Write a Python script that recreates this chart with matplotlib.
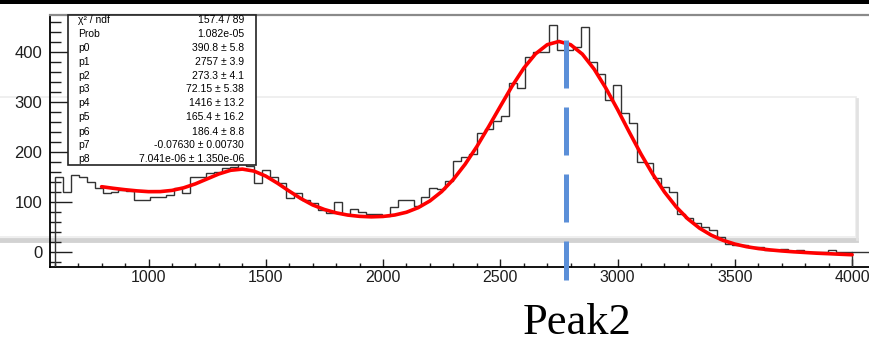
import numpy as np
import matplotlib
matplotlib.use("Agg")
import matplotlib.pyplot as plt
from matplotlib.ticker import MultipleLocator, FixedLocator
from matplotlib.patches import Rectangle
from matplotlib.lines import Line2D

# ---------------- data ----------------
bin_start = 600
bin_width = 34
counts = [150, 120, 153, 150, 140, 128, 117, 120, 123, 122,
          104, 104, 110, 110, 113, 127, 117, 150, 150, 158,
          160, 168, 170, 177, 172, 137, 163, 150, 137, 108,
          117, 103, 97, 83, 78, 100, 75, 85, 80, 76,
          75, 72, 89, 103, 103, 92, 110, 127, 125, 142,
          182, 190, 195, 237, 245, 262, 272, 337, 327, 390,
          400, 400, 453, 403, 403, 410, 450, 380, 355, 303,
          333, 277, 258, 180, 178, 148, 130, 120, 75, 68,
          57, 50, 43, 30, 15, 13, 13, 10, 10, 3,
          3, 5, 1, 3, 0, 0, 0, 3, 0, 0]

fit_x = [800, 850, 900, 950, 1000, 1050, 1100, 1150, 1200, 1250,
         1300, 1350, 1400, 1450, 1500, 1550, 1600, 1650, 1700, 1750,
         1800, 1850, 1900, 1950, 2000, 2050, 2100, 2150, 2200, 2250,
         2300, 2350, 2400, 2450, 2500, 2550, 2600, 2650, 2700, 2750,
         2800, 2850, 2900, 2950, 3000, 3050, 3100, 3150, 3200, 3250,
         3300, 3350, 3400, 3450, 3500, 3550, 3600, 3650, 3700, 3750,
         3800, 3850, 3900, 3950, 4000]
fit_y = [130.0, 126.8, 124.0, 121.7, 120.1, 120.2, 122.6, 127.8, 135.7, 145.6,
         155.5, 162.8, 165.2, 161.2, 151.2, 137.0, 121.2, 106.2, 93.5, 84.4,
         77.7, 73.2, 70.7, 69.7, 70.5, 73.4, 78.9, 88.1, 101.6, 120.2,
         144.7, 174.9, 210.3, 249.8, 290.6, 331.0, 367.0, 395.6, 414.0, 420.5,
         414.0, 395.1, 365.2, 327.2, 284.4, 239.1, 195.2, 155.0, 119.4, 89.6,
         65.5, 46.9, 32.9, 22.7, 15.3, 10.0, 6.3, 3.6, 1.5, -0.2,
         -1.6, -3.0, -4.0, -5.1, -6.1]

stat_names = ["\u03c7\u00b2 / ndf", "Prob", "p0", "p1", "p2", "p3", "p4",
              "p5", "p6", "p7", "p8"]
stat_values = ["157.4 / 89", "1.082e-05", "390.8 \u00b1 5.8", "2757 \u00b1 3.9",
               "273.3 \u00b1 4.1", "72.15 \u00b1 5.38", "1416 \u00b1 13.2",
               "165.4 \u00b1 16.2", "186.4 \u00b1 8.8", "-0.07630 \u00b1 0.00730",
               "7.041e-06 \u00b1 1.350e-06"]

peak_x = 2780
peak_label = "Peak2"
x_ticks = [1000, 1500, 2000, 2500, 3000, 3500, 4000]
y_ticks = [0, 100, 200, 300, 400]

# ---------------- layout ----------------
W, H = 870, 343
fig = plt.figure(figsize=(W / 100, H / 100), dpi=100)

def fx(px):
    return px / W

def fy(py):
    return 1 - py / H

# background overlay box (slide artefact)
fig.patches.append(Rectangle((fx(-5), fy(237)), fx(861), (237 - 97) / H,
                             transform=fig.transFigure, facecolor='none',
                             edgecolor='#ececec', lw=1.2, zorder=-5))
fig.lines.append(Line2D([fx(0), fx(856)], [fy(239.5), fy(239.5)],
                        transform=fig.transFigure, color='#d2d2d2', lw=3.5,
                        zorder=-4))
fig.lines.append(Line2D([fx(857.5), fx(857.5)], [fy(99), fy(239)],
                        transform=fig.transFigure, color='#e2e2e2', lw=2,
                        zorder=-4))
# top black bar
fig.patches.append(Rectangle((0, fy(3.5)), 1, 3.5 / H, transform=fig.transFigure,
                             facecolor='black', edgecolor='none', zorder=5))

ax = fig.add_axes([fx(50), fy(267), 830 / W, 252 / H])
ax.set_facecolor('none')
ax.set_zorder(1)
xmin, xmax = 580, 4119
ymin, ymax = -30.6, 473.4
ax.set_xlim(xmin, xmax)
ax.set_ylim(ymin, ymax)

edges = bin_start + bin_width * np.arange(len(counts) + 1)
ax.stairs(counts, edges, baseline=ymin, color='#333333', lw=1.0, zorder=3)
ax.plot([edges[-1], xmax], [0, 0], color='#333333', lw=1.0, zorder=3)

ax.plot(fit_x, fit_y, color='#ff0000', lw=2.6, zorder=4, solid_capstyle='round')

# peak marker
ax.plot([peak_x, peak_x], [423, -57], color='#5b8fd8', lw=3.6,
        ls=(0, (9.6, 3.8)), clip_on=False, zorder=6)

for s in ['left', 'bottom']:
    ax.spines[s].set_color('black')
    ax.spines[s].set_linewidth(1.3)
ax.spines['top'].set_color('#8a8a8a')
ax.spines['top'].set_linewidth(1.6)
ax.spines['right'].set_visible(False)

ax.xaxis.set_major_locator(FixedLocator(x_ticks))
ax.xaxis.set_minor_locator(MultipleLocator(100))
ax.yaxis.set_major_locator(FixedLocator(y_ticks))
ax.yaxis.set_minor_locator(MultipleLocator(20))
ax.tick_params(axis='x', which='major', direction='in', length=5.8, width=1.0,
               labelsize=11.5, pad=2.5, colors='#1e1e1e')
ax.tick_params(axis='x', which='minor', direction='in', length=2.9, width=1.0,
               colors='#1e1e1e')
ax.tick_params(axis='y', which='major', direction='in', length=16, width=1.0,
               labelsize=12, pad=5.5, colors='#1e1e1e')
ax.tick_params(axis='y', which='minor', direction='in', length=8, width=1.0,
               colors='#1e1e1e')
for lab in ax.get_xticklabels() + ax.get_yticklabels():
    lab.set_family('Liberation Sans')

# stats box
fig.patches.append(Rectangle((fx(68), fy(165)), (256 - 68) / W, (165 - 15) / H,
                             transform=fig.transFigure, facecolor='white',
                             edgecolor='#222222', lw=1.2, zorder=10))
row_y = [20, 34, 48, 62, 76, 89, 103, 117, 132, 145, 159]
for name, val, ry in zip(stat_names, stat_values, row_y):
    fig.text(fx(78), fy(ry), name, ha='left', va='center', fontsize=7.5,
             family='Liberation Sans', color='#000000', zorder=11)
    fig.text(fx(244), fy(ry), val, ha='right', va='center', fontsize=7.5,
             family='Liberation Sans', color='#000000', zorder=11)

fig.text(fx(577), fy(334), peak_label, ha='center', va='baseline', fontsize=32,
         family='Liberation Serif', color='black')

fig.savefig('out.png', dpi=100)
